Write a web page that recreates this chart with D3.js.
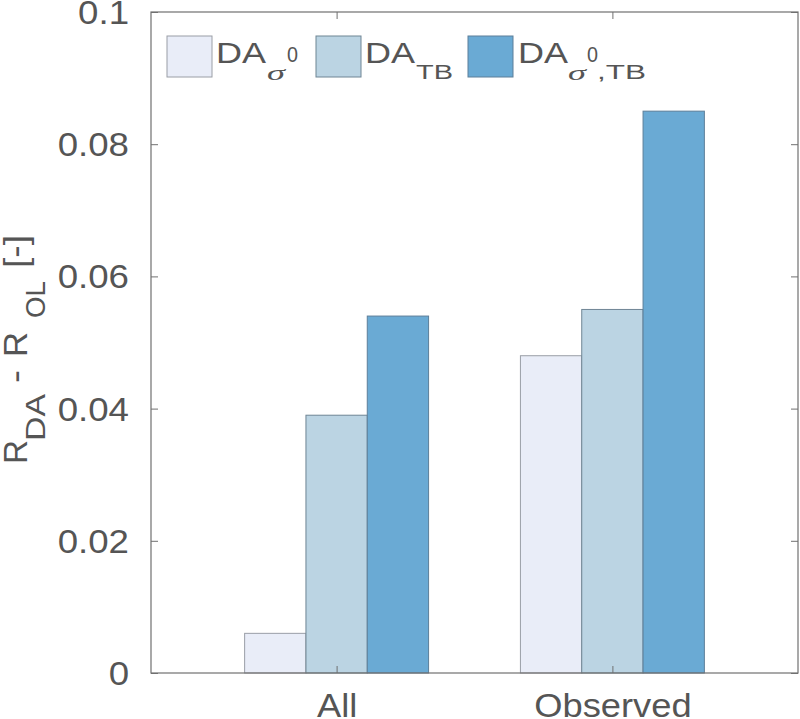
<!DOCTYPE html>
<html>
<head>
<meta charset="utf-8">
<script src="https://cdn.jsdelivr.net/npm/d3@7"></script>
<style>
  html, body { margin: 0; padding: 0; background: #fff; }
  svg { display: block; }
  text { font-family: "Liberation Sans", Arial, Helvetica, sans-serif; fill: #555; }
</style>
</head>
<body>
<svg id="chart" width="800" height="719"></svg>
<script>
// ---- data ----
const categories = ["All", "Observed"];
const seriesNames = ["DA_σ0", "DA_TB", "DA_σ0,TB"];
const valuesSigma0 = [0.006, 0.048];
const valuesTB = [0.039, 0.055];
const valuesSigma0TB = [0.054, 0.085];
const yTickValues = [0, 0.02, 0.04, 0.06, 0.08, 0.1];
const yTickLabels = ["0", "0.02", "0.04", "0.06", "0.08", "0.1"];

const series = [valuesSigma0, valuesTB, valuesSigma0TB];
const fills = ["#e9edf8", "#bbd4e3", "#6aaad4"];
const edges = ["#9a9ea6", "#6f8594", "#5d7f99"];

// ---- layout ----
const svg = d3.select("#chart");
const margin = { left: 151, top: 12, right: 2, bottom: 46 };
const W = 800 - margin.left - margin.right;   // 647
const H = 719 - margin.top - margin.bottom;   // 661
const axisColor = "#707070";
const tickLen = 7;

const x = d3.scaleLinear().domain([0.327, 2.673]).range([0, W]);
const y = d3.scaleLinear().domain([0, 0.1]).range([H, 0]);

const g = svg.append("g").attr("transform", `translate(${margin.left},${margin.top})`);

function stretch(sel, k) {
  sel.each(function () {
    const len = this.getComputedTextLength();
    d3.select(this).attr("textLength", len * k).attr("lengthAdjust", "spacingAndGlyphs");
  });
}

// ---- bars ----
const groupWidth = 0.667;
const barW = groupWidth / series.length;
series.forEach((vals, si) => {
  g.selectAll(null)
    .data(vals.map((v, ci) => ({ v, ci })))
    .enter().append("rect")
    .attr("x", d => x(d.ci + 1 - groupWidth / 2 + si * barW))
    .attr("width", d => x(d.ci + 1 - groupWidth / 2 + (si + 1) * barW) - x(d.ci + 1 - groupWidth / 2 + si * barW))
    .attr("y", d => y(d.v))
    .attr("height", d => y(0) - y(d.v))
    .attr("fill", fills[si])
    .attr("stroke", edges[si])
    .attr("stroke-width", 1);
});

// ---- box & ticks ----
g.append("rect").attr("x", 0).attr("y", 0).attr("width", W).attr("height", H)
  .attr("fill", "none").attr("stroke", axisColor).attr("stroke-width", 1.2);

const yAxis = d3.axisLeft(y).tickValues(yTickValues)
  .tickFormat((d, i) => yTickLabels[i]).tickSizeInner(-tickLen).tickSizeOuter(0).tickPadding(22 + 0);
const yg = g.append("g").call(yAxis);
yg.select(".domain").remove();
yg.selectAll(".tick line").attr("stroke", axisColor);
yg.selectAll(".tick text").attr("x", -22).attr("dy", "0.35em")
  .style("font-size", "33px").style("fill", "#555");
stretch(yg.selectAll(".tick text"), 1.11);

// right side ticks
const yR = g.append("g").attr("transform", `translate(${W},0)`)
  .call(d3.axisRight(y).tickValues(yTickValues).tickFormat("").tickSizeInner(-tickLen).tickSizeOuter(0));
yR.select(".domain").remove();
yR.selectAll(".tick line").attr("stroke", axisColor);

const xAxis = d3.axisBottom(x).tickValues([1, 2]).tickFormat((d, i) => categories[i])
  .tickSizeInner(-tickLen).tickSizeOuter(0);
const xg = g.append("g").attr("transform", `translate(0,${H})`).call(xAxis);
xg.select(".domain").remove();
xg.selectAll(".tick line").attr("stroke", axisColor);
xg.selectAll(".tick text").attr("y", 44).attr("dy", 0)
  .style("font-size", "33px").style("fill", "#555");
stretch(xg.selectAll(".tick text"), 1.1);

const xT = g.append("g").call(d3.axisTop(x).tickValues([1, 2]).tickFormat("").tickSizeInner(-tickLen).tickSizeOuter(0));
xT.select(".domain").remove();
xT.selectAll(".tick line").attr("stroke", axisColor);

// ---- y label: R_{DA} - R_{OL} [-] ----
const yl = svg.append("g").attr("transform", "translate(27,464) rotate(-90)");
const ylPieces = [
  { t: "R", a: 0, w: 24, dy: 0, fs: 34 },
  { t: "DA", a: 23, w: 47, dy: 18, fs: 28 },
  { t: "-", a: 81, w: 13, dy: 0, fs: 34 },
  { t: "R", a: 107, w: 25, dy: 0, fs: 34 },
  { t: "OL", a: 146, w: 37, dy: 18, fs: 28 },
  { t: "[-]", a: 196, w: 33, dy: 0, fs: 34 }
];
ylPieces.forEach(p => {
  yl.append("text").attr("x", p.a).attr("y", p.dy)
    .style("font-size", p.fs + "px")
    .attr("textLength", p.w).attr("lengthAdjust", "spacingAndGlyphs")
    .text(p.t);
});

// ---- legend ----
const lg = svg.append("g");
const swatchX = [167, 316, 468];
swatchX.forEach((sx, i) => {
  lg.append("rect").attr("x", sx).attr("y", 36).attr("width", 45).attr("height", 41)
    .attr("fill", fills[i]).attr("stroke", edges[i]).attr("stroke-width", 1);
});
function piece(t, px, py, fs, w, italicSerif) {
  const el = lg.append("text").attr("x", px).attr("y", py)
    .style("font-size", fs + "px")
    .attr("textLength", w).attr("lengthAdjust", "spacingAndGlyphs")
    .text(t);
  if (italicSerif) el.style("font-family", "'Liberation Serif', 'DejaVu Serif', serif").style("font-style", "italic");
}
// entry 1: DA_{σ^0}
piece("DA", 216, 63, 29, 50);
piece("σ", 267, 80, 22, 18, true);
piece("0", 287, 62, 22, 11);
// entry 2: DA_{TB}
piece("DA", 365, 63, 29, 50);
piece("TB", 416, 79, 20, 37);
// entry 3: DA_{σ^0,TB}
piece("DA", 518, 63, 29, 50);
piece("σ", 568, 80, 22, 18, true);
piece("0", 587, 62, 22, 11);
piece(",TB", 597, 79, 20, 49);
</script>
</body>
</html>
